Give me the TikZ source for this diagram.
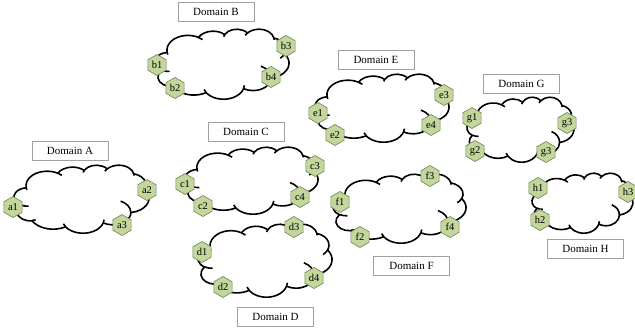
\documentclass[tikz,border=0pt]{standalone}
\usepackage{fontspec}
\setmainfont{Liberation Serif}
\usetikzlibrary{shapes.geometric}

\definecolor{hexfill}{RGB}{195,214,155}
\definecolor{hexline}{RGB}{112,128,84}
\definecolor{boxline}{RGB}{160,160,160}

\tikzset{
  domaincloud/.pic={
    \draw[line width=1.6pt, fill=white] (39.00,143.70)
      arc[start angle=-187.75, end angle=-59.63, x radius=67.53, y radius=91.90]
      arc[start angle=-152.02, end angle=-45.45, x radius=53.33, y radius=72.67]
      arc[start angle=-153.48, end angle=-37.34, x radius=43.65, y radius=59.45]
      arc[start angle=-139.72, end angle=-10.22, x radius=48.57, y radius=65.95]
      arc[start angle=-74.77, end angle=23.21, x radius=53.33, y radius=72.73]
      arc[start angle=-37.53, end angle=81.87, x radius=67.75, y radius=92.20]
      arc[start angle=0.46, end angle=121.98, x radius=57.85, y radius=78.67]
      arc[start angle=16.85, end angle=146.23, x radius=67.52, y radius=92.15]
      arc[start angle=58.98, end angle=150.20, x radius=77.20, y radius=105.43]
      arc[start angle=-276.69, end angle=-136.88, x radius=43.60, y radius=59.18]
      arc[start angle=120.36, end angle=264.11, x radius=43.45, y radius=59.45]
      -- cycle;
    \draw[line width=1.6pt]
      (46.93,261.77) arc[start angle=85.54, end angle=120.36, x radius=43.45, y radius=59.45]
      (69.28,348.99) arc[start angle=68.24, end angle=83.31, x radius=43.60, y radius=59.18]
      (164.78,390.90) arc[start angle=146.23, end angle=158.47, x radius=67.52, y radius=92.15]
      (288.27,347.51) arc[start angle=4.74, end angle=16.85, x radius=67.52, y radius=92.15]
      (341.29,229.54) arc[start angle=-64.03, end angle=0.46, x radius=57.85, y radius=78.67]
      (417.98,153.54) arc[start angle=23.21, end angle=49.64, x radius=53.33, y radius=72.73]
      (383.24,54.26) arc[start angle=-10.22, end angle=0.82, x radius=48.57, y radius=65.95]
      (290.78,39.52) arc[start angle=-156.28, end angle=-139.72, x radius=48.57, y radius=65.95]
      (221.41,47.20) arc[start angle=-167.73, end angle=-153.48, x radius=43.65, y radius=59.45]
      (140.00,51.92) arc[start angle=-59.63, end angle=-45.75, x radius=67.53, y radius=91.90]
      (41.27,157.89) arc[start angle=163.20, end angle=172.25, x radius=67.53, y radius=91.90];
  },
  domainbox/.style={draw=boxline, line width=0.6pt, fill=white, minimum width=76pt,
    minimum height=19pt, inner sep=0pt, font=\fontsize{11}{12}\selectfont},
  port/.style={regular polygon, regular polygon sides=6, shape border rotate=30,
    draw=hexline, line width=0.6pt, fill=hexfill, minimum size=21pt, inner sep=0pt,
    font=\fontsize{10.5}{10.5}\selectfont},
}

\begin{document}
\begin{tikzpicture}[x=1pt, y=-1pt]
\useasboundingbox (0,0) rectangle (635,332);

% clouds
\pic[xscale=135/432, yscale=68/432] (cloudA) at (14,165) {domaincloud};
\pic[xscale=134/432, yscale=70/432] (cloudB) at (155,29) {domaincloud};
\pic[xscale=133/432, yscale=67/432] (cloudC) at (185,147) {domaincloud};
\pic[xscale=134/432, yscale=73/432] (cloudD) at (198,224) {domaincloud};
\pic[xscale=134/432, yscale=68/432] (cloudE) at (315,74) {domaincloud};
\pic[xscale=133/432, yscale=69/432] (cloudF) at (333,174) {domaincloud};
\pic[xscale=107/432, yscale=65/432] (cloudG) at (467,97) {domaincloud};
\pic[xscale=101/432, yscale=60/432] (cloudH) at (532,173) {domaincloud};

% labels
\node[domainbox] (domA) at (70,150.5) {Domain A};
\node[domainbox] (domB) at (216,12) {Domain B};
\node[domainbox] (domC) at (246,131.5) {Domain C};
\node[domainbox] (domD) at (275.5,316.5) {Domain D};
\node[domainbox] (domE) at (376,59.5) {Domain E};
\node[domainbox] (domF) at (411.5,266) {Domain F};
\node[domainbox] (domG) at (521.5,84) {Domain G};
\node[domainbox] (domH) at (585.5,248.5) {Domain H};

% border nodes
\node[port] (a1) at (13,207) {a1};
\node[port] (a2) at (147,190) {a2};
\node[port] (a3) at (122,225) {a3};

\node[port] (b1) at (157,65) {b1};
\node[port] (b2) at (175,88) {b2};
\node[port] (b3) at (286,46) {b3};
\node[port] (b4) at (271,77) {b4};

\node[port] (c1) at (185,184) {c1};
\node[port] (c2) at (203,206) {c2};
\node[port] (c3) at (315,166) {c3};
\node[port] (c4) at (300,197) {c4};

\node[port] (d1) at (202,252) {d1};
\node[port] (d2) at (223,287) {d2};
\node[port] (d3) at (294,227) {d3};
\node[port] (d4) at (314,278) {d4};

\node[port] (e1) at (318,113) {e1};
\node[port] (e2) at (335,135) {e2};
\node[port] (e3) at (444,95) {e3};
\node[port] (e4) at (431,125) {e4};

\node[port] (f1) at (340,202) {f1};
\node[port] (f2) at (360,237) {f2};
\node[port] (f3) at (430,176) {f3};
\node[port] (f4) at (450,227) {f4};

\node[port] (g1) at (472,118) {g1};
\node[port] (g2) at (475,151) {g2};
\node[port] (g3) at (567,123) {g3};
\node[port] (g4) at (546,152) {g3};

\node[port] (h1) at (538,188) {h1};
\node[port] (h2) at (540,220) {h2};
\node[port] (h3) at (628,192) {h3};
\end{tikzpicture}
\end{document}
